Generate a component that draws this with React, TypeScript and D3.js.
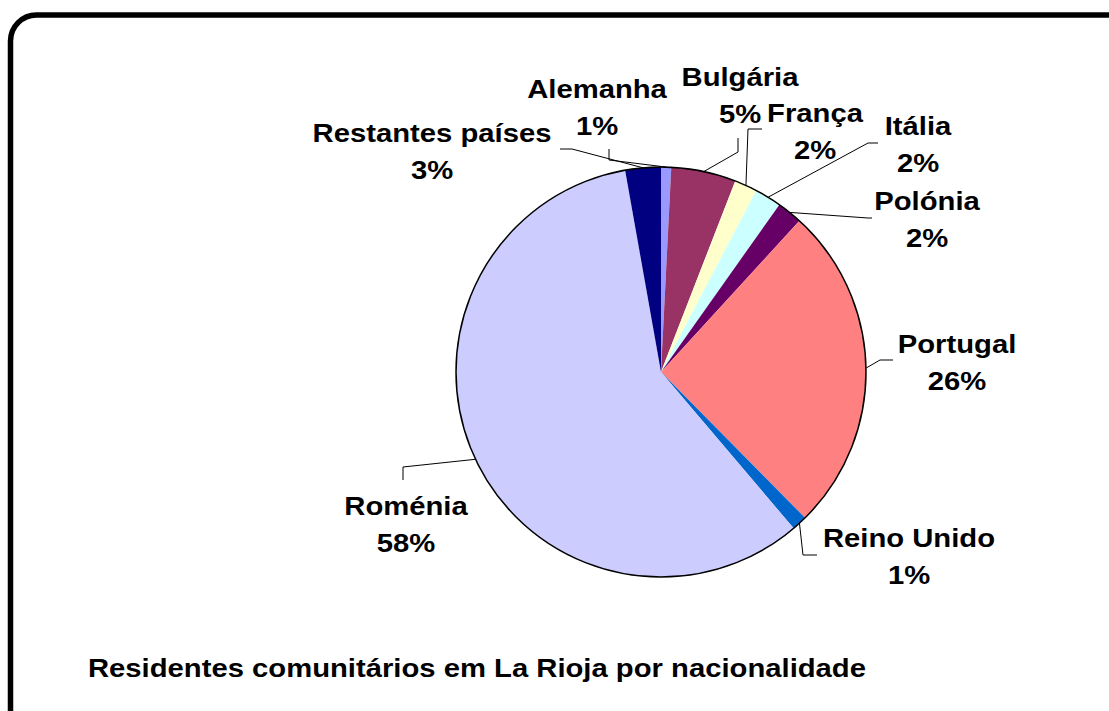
import * as d3 from "d3";

const countries = [
  "Alemanha",
  "Bulgária",
  "França",
  "Itália",
  "Polónia",
  "Portugal",
  "Reino Unido",
  "Roménia",
  "Restantes países",
];
const shares = [0.8, 5.1, 1.8, 2.1, 2.0, 25.8, 1.2, 58.4, 2.8];
const colors = [
  "#9999FF",
  "#993366",
  "#FFFFCC",
  "#CCFFFF",
  "#660066",
  "#FF8080",
  "#0066CC",
  "#CCCCFF",
  "#000080",
];
const title = "Residentes comunitários em La Rioja por nacionalidade";

// label placement: text centre x, first baseline y, then leader bend points (from pie edge outwards)
const labelLayout: { x: number; y: number; leader: [number, number][] }[] = [
  { x: 597, y: 98, leader: [[609, 160], [609, 149]] },
  { x: 740, y: 86, leader: [[738, 152], [738, 138]] },
  { x: 815, y: 122, leader: [[748, 129], [762, 129]] },
  { x: 918, y: 135, leader: [[868, 143], [878, 143]] },
  { x: 927, y: 210, leader: [[868, 218], [872, 218]] },
  { x: 957, y: 353, leader: [[880, 360], [893, 360]] },
  { x: 909, y: 547, leader: [[803, 555], [817, 555]] },
  { x: 406, y: 515, leader: [[403, 467], [403, 480]] },
  { x: 432, y: 142, leader: [[572, 149], [560, 149]] },
];

type Slice = { name: string; value: number; color: string };

export default function App() {
  const width = 1109;
  const height = 711;
  const cx = 661;
  const cy = 372;
  const r = 205;
  const lineGap = 37;
  const stretch = 1.17; // the original text is drawn a bit wider than Arial

  const data: Slice[] = countries.map((name, i) => ({ name, value: shares[i], color: colors[i] }));
  const total = d3.sum(shares);
  const pie = d3.pie<Slice>().value((d) => d.value).sort(null).startAngle(0).endAngle(2 * Math.PI);
  const arcs = pie(data);
  const arc = d3.arc<d3.PieArcDatum<Slice>>().innerRadius(0).outerRadius(r);
  const edge = d3.arc<d3.PieArcDatum<Slice>>().innerRadius(r).outerRadius(r);

  return (
    <div style={{ position: "fixed", left: 0, top: 0 }}>
      <svg width={width} height={height} style={{ display: "block" }}>
        <rect x={0} y={0} width={width} height={height} fill="#fff" />
        <rect
          x={10.5}
          y={15}
          width={1150}
          height={760}
          rx={26}
          fill="#fff"
          stroke="#000"
          strokeWidth={5.5}
        />
        <g transform={`translate(${cx},${cy})`}>
          {arcs.map((a) => (
            <path key={a.data.name} d={arc(a) ?? ""} fill={a.data.color} />
          ))}
          <circle r={r} fill="none" stroke="#000" strokeWidth={1.5} />
        </g>
        {arcs.map((a, i) => {
          const [ex, ey] = edge.centroid(a);
          const lay = labelLayout[i];
          const pts: [number, number][] = [[cx + ex, cy + ey], ...lay.leader];
          return (
            <path
              key={`leader-${a.data.name}`}
              d={d3.line()(pts) ?? ""}
              fill="none"
              stroke="#000"
              strokeWidth={1}
            />
          );
        })}
        <g
          fontFamily="'Liberation Sans', Arial, sans-serif"
          fontWeight="bold"
          fontSize={25}
          fill="#000"
          textAnchor="middle"
        >
          {arcs.map((a, i) => {
            const lay = labelLayout[i];
            const pct = Math.round((a.data.value / total) * 100);
            return (
              <text
                key={`label-${a.data.name}`}
                transform={`translate(${lay.x},${lay.y}) scale(${stretch},1)`}
              >
                <tspan x={0}>{a.data.name}</tspan>
                <tspan x={0} dy={lineGap}>{`${pct}%`}</tspan>
              </text>
            );
          })}
          <text transform={`translate(88,677) scale(${stretch},1)`} textAnchor="start">
            {title}
          </text>
        </g>
      </svg>
    </div>
  );
}
